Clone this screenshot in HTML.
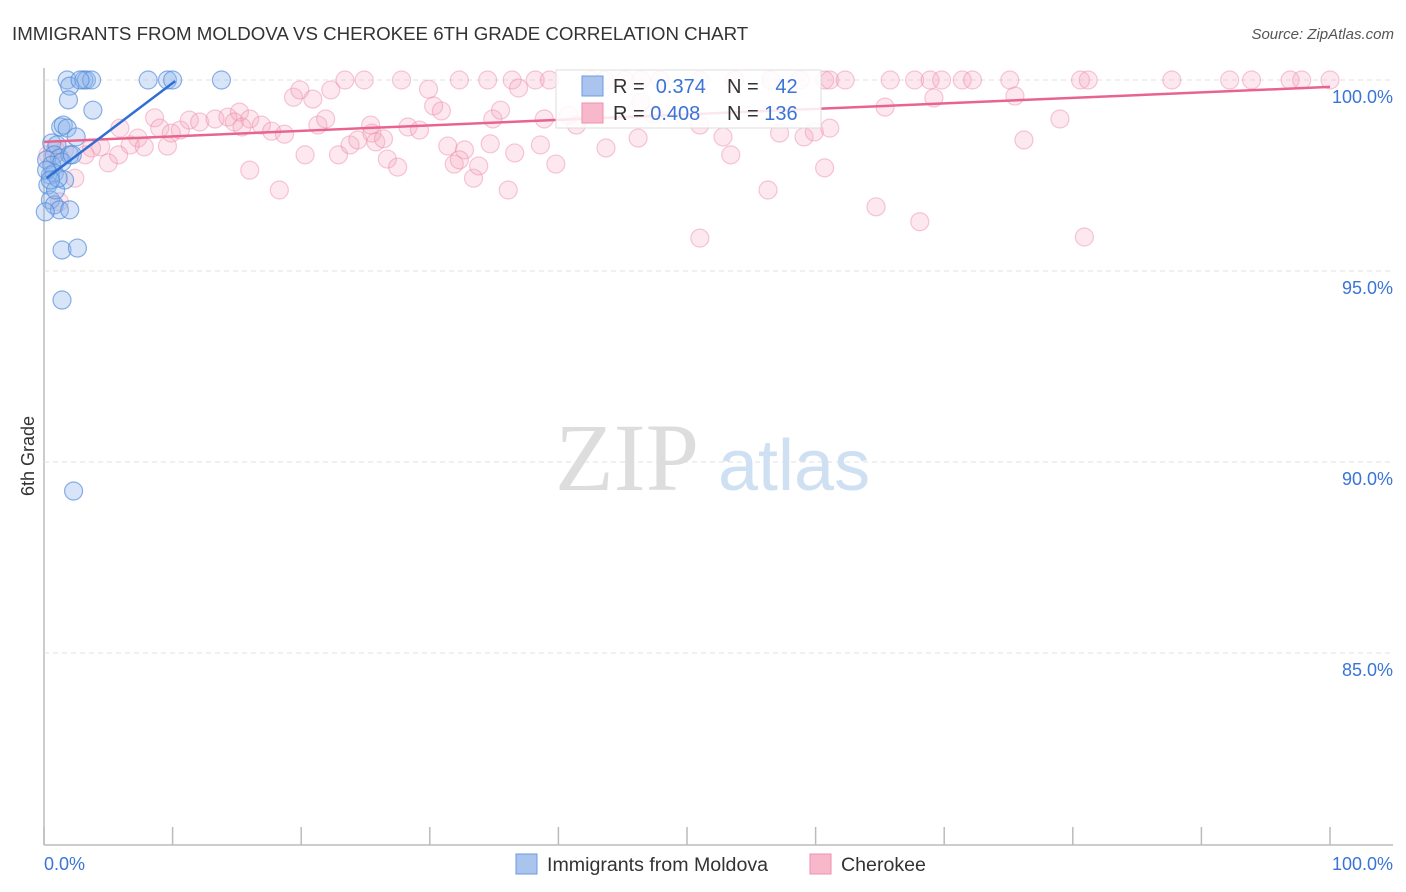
<!DOCTYPE html>
<html><head><meta charset="utf-8">
<style>
body{margin:0;background:#fff;font-family:"Liberation Sans",sans-serif;}
#wrap{position:relative;width:1406px;height:892px;overflow:hidden;}
</style></head>
<body>
<div id="wrap">
<svg id="chart" width="1406" height="892" xmlns="http://www.w3.org/2000/svg">
<text x="12" y="40" font-size="18.7" fill="#333">IMMIGRANTS FROM MOLDOVA VS CHEROKEE 6TH GRADE CORRELATION CHART</text>
<text x="1394" y="39" font-size="15" fill="#555" font-style="italic" text-anchor="end">Source: ZipAtlas.com</text>
<text x="34" y="456" font-size="18" fill="#333" transform="rotate(-90 34 456)" text-anchor="middle">6th Grade</text>
<g id="grid"></g>
<text x="555" y="490" font-size="96" fill="#ddd" font-family="Liberation Serif,serif">ZIP</text>
<text x="718" y="490" font-size="72" fill="#cfe0f3">atlas</text>
<g id="pts"></g>
<g id="lines"></g>
<g>
<rect x="556" y="70" width="265" height="58" fill="#fff" fill-opacity="0.85" stroke="#ddd"/>
<rect x="582" y="76" width="21" height="20" fill="#aac4ee" stroke="#6a9be0"/>
<rect x="582" y="103" width="21" height="20" fill="#f8b8cb" stroke="#ef8fad"/>
<text x="613" y="93" font-size="20" fill="#333">R = <tspan fill="#3a74d6">&#160;0.374</tspan></text>
<text x="727" y="93" font-size="20" fill="#333">N = <tspan fill="#3a74d6">&#160;&#160;42</tspan></text>
<text x="613" y="120" font-size="20" fill="#333">R = <tspan fill="#3a74d6">0.408</tspan></text>
<text x="727" y="120" font-size="20" fill="#333">N = <tspan fill="#3a74d6">136</tspan></text>
</g>
<g>
<rect x="516" y="854" width="21" height="20" fill="#aac4ee" stroke="#6a9be0"/>
<text x="547" y="871" font-size="19.6" fill="#333">Immigrants from Moldova</text>
<rect x="810" y="854" width="21" height="20" fill="#f8b8cb" stroke="#ef8fad"/>
<text x="841" y="871" font-size="19.6" fill="#333">Cherokee</text>
</g>
<text x="44" y="870" font-size="18" fill="#3a74d6">0.0%</text>
<text x="1393" y="870" font-size="18" fill="#3a74d6" text-anchor="end">100.0%</text>
</svg>
</div>
<script>
const yTicks=[100,95,90,85];
const yTickLabels=["100.0%","95.0%","90.0%","85.0%"];
const xTicks=[0,10,20,30,40,50,60,70,80,90,100];
const moldovaX=[1.8,2.0,3.1,3.3,3.7,8.1,9.6,10.0,13.8,1.9,3.8,1.3,1.5,1.8,2.5,0.6,1.0,0.8,1.2,2.0,0.2,0.6,1.4,0.5,0.8,0.3,1.6,0.5,0.8,1.2,2.0,0.1,1.4,2.6,1.4,2.3,0.9,0.2,2.2,2.8,1.1,0.5];
const moldovaY=[100,99.84,100,100,100,100,100,100,100,99.48,99.21,98.77,98.82,98.74,98.51,98.35,98.30,98.04,97.96,98.04,97.91,97.77,97.85,97.51,97.56,97.25,97.38,96.86,96.73,96.60,96.60,96.55,95.55,95.60,94.24,89.24,97.12,97.64,98.04,100,97.43,97.38];
const cherokeeX=[23.4,24.9,27.8,32.3,34.5,36.4,38.2,43.6,45.2,47.9,51.0,53.7,56.5,58.8,60.7,61.1,62.3,65.8,67.7,68.9,69.8,71.4,72.2,75.1,80.6,81.2,87.7,92.2,93.9,96.9,97.8,100,42.5,46.4,39.3,
8.6,9.0,9.9,10.6,7.3,6.7,5.8,5.0,4.4,3.7,3.2,7.8,9.6,11.3,12.1,13.3,14.3,15.2,14.8,16.0,16.9,17.7,18.7,19.4,19.9,20.9,21.3,21.9,20.3,22.3,22.9,23.8,24.4,25.5,25.8,26.4,26.7,27.5,28.3,29.2,29.9,30.3,30.9,31.4,31.9,32.7,33.4,33.8,34.7,34.9,35.5,36.1,36.6,38.6,38.9,39.8,40.8,41.4,43.7,46.2,47.4,51.0,52.8,53.4,56.3,59.1,59.9,60.7,61.1,64.7,65.4,68.1,69.2,75.5,76.2,79.0,80.9,15.4,5.9,2.4,1.6,0.9,0.3,1.2,16.0,18.3,25.4,57.2,32.3,46.4,51.0,36.9];
const cherokeeY=[100,100,100,100,100,100,100,100,100,100,100,100,100,100,100,100,100,100,100,100,100,100,100,100,100,100,100,100,100,100,100,100,100,100,100,
99.01,98.74,98.61,98.69,98.48,98.30,98.04,97.83,98.25,98.22,98.04,98.25,98.27,98.95,98.90,98.98,99.03,99.16,98.90,98.98,98.82,98.66,98.58,99.55,99.74,99.50,98.82,98.98,98.04,99.74,98.04,98.30,98.43,98.61,98.38,98.46,97.93,97.72,98.77,98.69,99.76,99.32,99.19,98.27,97.80,98.17,97.43,97.75,98.33,98.98,99.21,97.12,98.09,98.30,98.98,97.80,99.08,98.82,98.22,98.48,99.11,95.86,98.51,98.04,97.12,98.51,98.64,97.70,98.74,96.68,99.29,96.29,99.53,99.58,98.43,98.98,95.89,98.77,98.74,97.43,98.17,98.17,98.04,96.81,97.64,97.12,98.82,98.61,97.91,99.42,98.82,99.79,99.92,100.16];
const X0=44,X1=1330,Y100=80,PXPER=38.2;
function xs(v){return X0+(X1-X0)*v/100;}
function ys(v){return Y100+(100-v)*PXPER;}
const NS="http://www.w3.org/2000/svg";
function mk(t,a,p){const e=document.createElementNS(NS,t);for(const k in a)e.setAttribute(k,a[k]);p.appendChild(e);return e;}
const grid=document.getElementById('grid');
const ax=mk('line',{x1:44,y1:68,x2:44,y2:845,stroke:'#bbb','stroke-width':1.5},grid);


const bx=mk('line',{x1:44,y1:845,x2:1393,y2:845,stroke:'#bbb','stroke-width':1.5},grid);


yTicks.forEach((t,i)=>{
  const g=mk('line',{x1:44,y1:ys(t),x2:1393,y2:ys(t),stroke:'#e2e2e2','stroke-dasharray':'5,4'},grid);
  
  
  const tx=mk('text',{x:1393,y:ys(t)+23,'font-size':18,fill:'#3a74d6','text-anchor':'end'},grid);
  tx.textContent=yTickLabels[i];
  
  
});
xTicks.forEach(t=>{
  const l=mk('line',{x1:xs(t),y1:827,x2:xs(t),y2:845,stroke:'#bbb','stroke-width':1.5},grid);
  
  
});
const pts=document.getElementById('pts');
cherokeeX.forEach((x,i)=>{
  const c=mk('circle',{cx:xs(x),cy:ys(cherokeeY[i]),r:9,fill:'#f5a3bd','fill-opacity':0.25,stroke:'#ee88a8','stroke-opacity':0.45,'stroke-width':1.2},pts);
  
  
});
moldovaX.forEach((x,i)=>{
  const c=mk('circle',{cx:xs(x),cy:ys(moldovaY[i]),r:9,fill:'#8fb4ea','fill-opacity':0.35,stroke:'#4f88d8','stroke-opacity':0.65,'stroke-width':1.2},pts);
  
  
});
const lines=document.getElementById('lines');
const pl=mk('line',{x1:xs(0),y1:ys(98.38),x2:xs(100),y2:ys(99.82),stroke:'#e8648f','stroke-width':2.5},lines);


const bl=mk('line',{x1:xs(0.2),y1:ys(97.43),x2:xs(10.2),y2:ys(99.97),stroke:'#2f6fd4','stroke-width':2.5},lines);


</script>
</body></html>
